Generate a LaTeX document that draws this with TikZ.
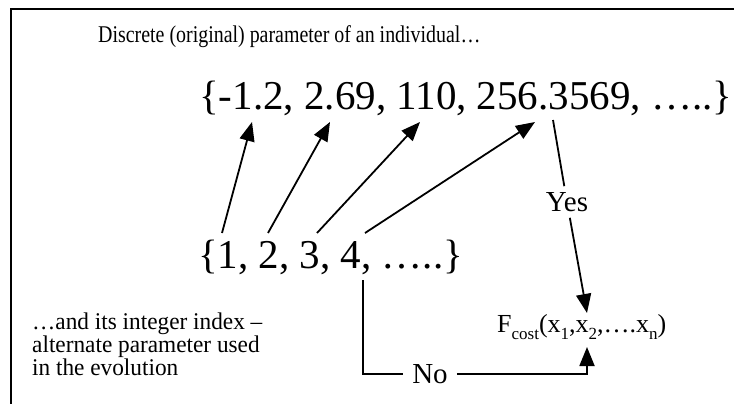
\documentclass[tikz,border=0pt]{standalone}
\usepackage{fontspec}
\setmainfont{Liberation Serif}
\newfontfamily\narrowserif[FakeStretch=0.83]{Liberation Serif}
\newfontfamily\noteserif[FakeStretch=0.97]{Liberation Serif}
\newcommand\tightlines{\lineskiplimit=-20pt\relax}
\newcommand\lowidx[1]{\raisebox{-0.6ex}{\fontsize{17}{17}\selectfont #1}}
\usetikzlibrary{arrows.meta}

\begin{document}
\begin{tikzpicture}[
x=1pt, y=-1pt,
every node/.style={inner sep=2pt},
title/.style={font=\narrowserif\fontsize{24}{24}\selectfont},
bigset/.style={font=\fontsize{41}{41}\selectfont},
word/.style={font=\fontsize{29}{29}\selectfont, inner sep=6pt},
note/.style={font={\noteserif\fontsize{24}{23}\selectfont\tightlines}, align=left},
arrow/.style={-{Triangle[length=19pt,width=15pt]}, line width=1.8pt},
plain/.style={line width=1.8pt}
]
\useasboundingbox (0,0) rectangle (734,404);

% frame (cut at right and bottom)
\draw[line width=2.5pt] (11,404) -- (11,9) -- (734,9);

\node[title, anchor=base west] (head) at (96,43) {Discrete (original) parameter of an individual…};

\node[bigset, anchor=base west] (orig) at (197,110) {\{-1.2, 2.69, 110, 256.3569, …..\}};

\node[bigset, anchor=base west] (index) at (196,268) {\{1, 2, 3, 4, …..\}};

\node[word] (yes) at (567,202) {Yes};

\node[word, inner sep=9pt] (no) at (430,374) {No};

\node[font=\fontsize{26}{26}\selectfont, anchor=base west] (fcost) at (495,332)
  {F\lowidx{cost}(x\lowidx{1},x\lowidx{2},….x\lowidx{n})};

\node[note, anchor=north west, inner sep=0pt] (alt) at (32,313) {…and its integer index –\\alternate parameter used\\in the evolution};

% arrow ends
\coordinate (s1) at (222,233);
\coordinate (s2) at (268,233);
\coordinate (s3) at (317,233);
\coordinate (s4) at (365,233);
\coordinate (t1) at (252,122);
\coordinate (t2) at (330,122);
\coordinate (t3) at (420,122);
\coordinate (t4) at (535,122);
\coordinate (y0) at (553,120);
\coordinate (y1) at (587,313);
\coordinate (n0) at (363,280);
\coordinate (n1) at (587,347);

\draw[arrow] (s1) -- (t1);
\draw[arrow] (s2) -- (t2);
\draw[arrow] (s3) -- (t3);
\draw[arrow] (s4) -- (t4);

\draw[plain] (y0) -- (yes);
\draw[arrow] (yes) -- (y1);

\draw[plain] (n0) |- (no);
\draw[arrow] (no) -| (n1);

\end{tikzpicture}
\end{document}
